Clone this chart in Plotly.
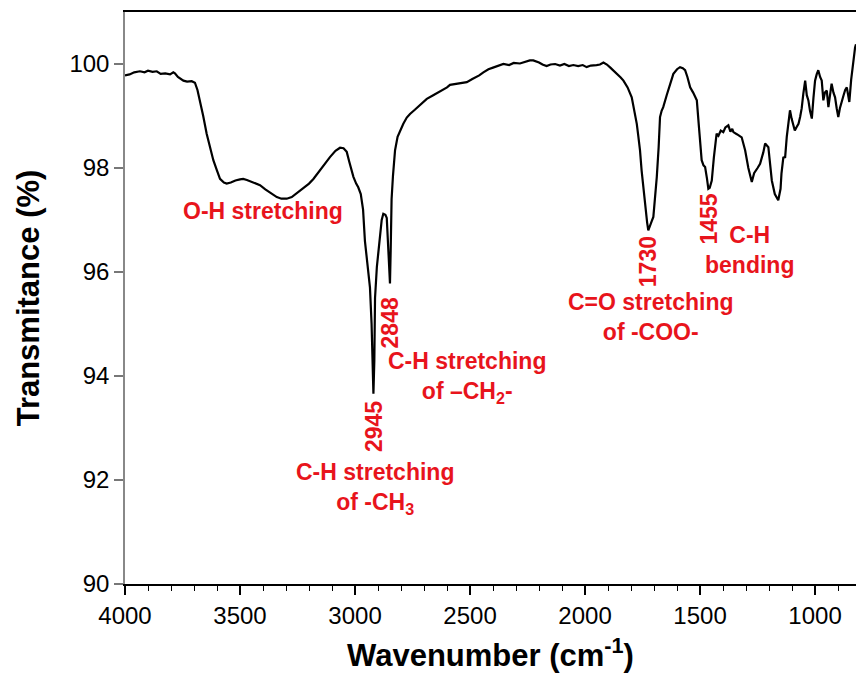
import plotly.graph_objects as go

wavenumber = [
    4000, 3980, 3960, 3935, 3915, 3900, 3880, 3862, 3845, 3825, 3804, 3790, 3783, 3770, 3746,
    3730, 3710, 3696, 3685, 3674, 3660, 3645, 3630, 3616, 3600, 3587, 3570, 3558, 3540, 3520,
    3500, 3486, 3470, 3450, 3430, 3413, 3390, 3360, 3340, 3320, 3297, 3275, 3254, 3230, 3200,
    3181, 3150, 3130, 3109, 3085, 3065, 3050, 3036, 3025, 3015, 3007, 2995, 2986, 2975, 2965,
    2957, 2945, 2935, 2928, 2922, 2920, 2916, 2913, 2905, 2891, 2884, 2877, 2868, 2862, 2855,
    2850, 2848, 2845, 2841, 2835, 2826, 2815, 2804, 2790, 2775, 2761, 2740, 2720, 2700, 2688,
    2660, 2630, 2600, 2587, 2560, 2540, 2514, 2490, 2460, 2442, 2420, 2400, 2380, 2355, 2330,
    2310, 2283, 2260, 2240, 2225, 2200, 2185, 2167, 2150, 2130, 2109, 2090, 2070, 2051, 2030,
    2010, 1993, 1975, 1950, 1935, 1920, 1905, 1890, 1877, 1860, 1845, 1833, 1815, 1797, 1785,
    1775, 1768, 1761, 1754, 1746, 1738, 1730, 1725, 1718, 1710, 1703, 1695, 1688, 1680, 1674,
    1667, 1660, 1645, 1630, 1616, 1600, 1587, 1575, 1565, 1555, 1543, 1530, 1514, 1505, 1493,
    1485, 1478, 1470, 1464, 1458, 1449, 1440, 1428, 1420, 1410, 1399, 1390, 1377, 1368, 1360,
    1355, 1340, 1319, 1304, 1290, 1275, 1265, 1250, 1239, 1225, 1217, 1203, 1195, 1188, 1175,
    1160, 1150, 1146, 1138, 1130, 1123, 1116, 1109, 1102, 1095, 1088, 1080, 1072, 1065, 1058,
    1051, 1043, 1036, 1029, 1022, 1014, 1007, 1000, 993, 986, 978, 971, 964, 957, 949,
    942, 935, 928, 920, 913, 906, 899, 892, 884, 876, 869, 862, 856, 851, 843,
    836, 830, 826, 822,
]
transmittance = [
    99.78, 99.80, 99.84, 99.86, 99.84, 99.87, 99.85, 99.86, 99.81, 99.82, 99.80, 99.84, 99.82, 99.75, 99.68,
    99.66, 99.67, 99.64, 99.50, 99.30, 99.00, 98.66, 98.40, 98.15, 97.95, 97.79, 97.72, 97.70, 97.72, 97.76,
    97.78, 97.79, 97.77, 97.73, 97.70, 97.67, 97.59, 97.49, 97.44, 97.41, 97.41, 97.44, 97.51, 97.60, 97.70,
    97.79, 97.97, 98.10, 98.21, 98.33, 98.39, 98.38, 98.31, 98.12, 97.95, 97.83, 97.70, 97.63, 97.50, 97.20,
    96.60, 96.10, 95.70, 95.00, 94.20, 93.66, 94.30, 95.50, 96.10, 96.74, 97.00, 97.12, 97.10, 97.04, 96.42,
    95.80, 95.78, 96.40, 97.40, 97.85, 98.34, 98.60, 98.72, 98.85, 98.97, 99.04, 99.12, 99.20, 99.28, 99.33,
    99.40, 99.47, 99.55, 99.60, 99.62, 99.64, 99.65, 99.71, 99.78, 99.84, 99.90, 99.93, 99.96, 100.00, 99.98,
    100.02, 100.01, 100.05, 100.07, 100.07, 100.03, 99.99, 99.96, 99.99, 100.00, 99.97, 100.00, 99.96, 99.98, 99.96,
    99.98, 99.94, 99.97, 99.98, 99.99, 100.03, 99.99, 99.93, 99.88, 99.80, 99.74, 99.68, 99.55, 99.36, 99.10,
    98.85, 98.60, 98.34, 97.95, 97.57, 97.20, 96.95, 96.80, 96.90, 96.98, 97.06, 97.40, 97.83, 98.40, 98.98,
    99.10, 99.17, 99.40, 99.60, 99.81, 99.90, 99.94, 99.92, 99.88, 99.75, 99.55, 99.45, 99.30, 98.80, 98.15,
    98.05, 98.02, 97.80, 97.60, 97.62, 97.76, 98.20, 98.66, 98.62, 98.72, 98.69, 98.78, 98.82, 98.70, 98.75,
    98.69, 98.65, 98.59, 98.34, 98.00, 97.73, 97.90, 98.00, 98.08, 98.30, 98.47, 98.40, 98.10, 97.76, 97.50,
    97.38, 97.60, 97.89, 98.20, 98.21, 98.60, 98.91, 99.11, 98.95, 98.80, 98.72, 98.79, 98.85, 98.98, 99.15,
    99.43, 99.68, 99.40, 99.30, 99.10, 98.95, 99.35, 99.68, 99.80, 99.88, 99.75, 99.68, 99.30, 99.45, 99.49,
    99.17, 99.40, 99.62, 99.45, 99.36, 99.15, 98.98, 99.15, 99.30, 99.40, 99.50, 99.55, 99.40, 99.27, 99.70,
    100.00, 100.20, 100.32, 100.38,
]

x_ticks = [4000, 3500, 3000, 2500, 2000, 1500, 1000]
y_ticks = [90, 92, 94, 96, 98, 100]

# annotation texts and anchor points (wavenumber, transmittance)
peak_labels = ["2945", "2848", "1730", "1455"]
peak_label_x = [2917, 2848, 1726, 1461]
peak_label_y = [93.02, 95.03, 96.19, 97.01]

band_labels = [
    "O-H stretching",
    "C-H stretching<br>of -CH<sub>3</sub>",
    "C-H stretching<br>of \u2013CH<sub>2</sub>-",
    "C=O stretching<br>of -COO-",
    "C-H<br>bending",
]
band_label_x = [3402, 2913, 2513, 1713, 1283]
band_label_y = [97.17, 91.83, 93.97, 95.13, 96.42]

RED = "#e8141c"
FONT = "Arial, Liberation Sans, sans-serif"

fig = go.Figure()
fig.add_trace(go.Scatter(
    x=wavenumber, y=transmittance, mode="lines",
    line=dict(color="black", width=2.2), showlegend=False, hoverinfo="skip",
))

annotations = []
for t, x, y in zip(peak_labels, peak_label_x, peak_label_y):
    annotations.append(dict(x=x, y=y, xref="x", yref="y", text=t, textangle=-90,
                            showarrow=False, font=dict(family=FONT, size=23, color=RED, weight="bold"),
                            xanchor="center", yanchor="middle"))
for t, x, y in zip(band_labels, band_label_x, band_label_y):
    annotations.append(dict(x=x, y=y, xref="x", yref="y", text=t, align="center",
                            showarrow=False, font=dict(family=FONT, size=23, color=RED, weight="bold"),
                            xanchor="center", yanchor="middle"))

fig.update_layout(
    width=856, height=677,
    margin=dict(l=125, r=0, t=12, b=93),
    plot_bgcolor="white", paper_bgcolor="white",
    font=dict(family=FONT, color="black"),
    annotations=annotations,
    xaxis=dict(
        range=[4000, 822], tickvals=x_ticks, ticks="outside", ticklen=9, tickwidth=1.5,
        tickcolor="black", showline=True, linecolor="black", linewidth=1.5, mirror=True,
        showgrid=False, zeroline=False, tickfont=dict(size=24, color="black"),
        minor=dict(dtick=100, ticks="outside", ticklen=5, tickcolor="black", tickwidth=1.2),
        title=dict(text="<b>Wavenumber (cm<sup>-1</sup>)</b>", font=dict(size=31, color="black"), standoff=17),
    ),
    yaxis=dict(
        range=[90, 101], tickvals=y_ticks, ticks="outside", ticklen=9, tickwidth=1.5,
        tickcolor="#777777", showline=True, linecolor="#888888", linewidth=1.5,
        showgrid=False, zeroline=False, tickfont=dict(size=24, color="black"),
        title=dict(text="<b>Transmitance (%)</b>", font=dict(size=31, color="black"), standoff=21),
    ),
)

fig.write_html("out.html")
